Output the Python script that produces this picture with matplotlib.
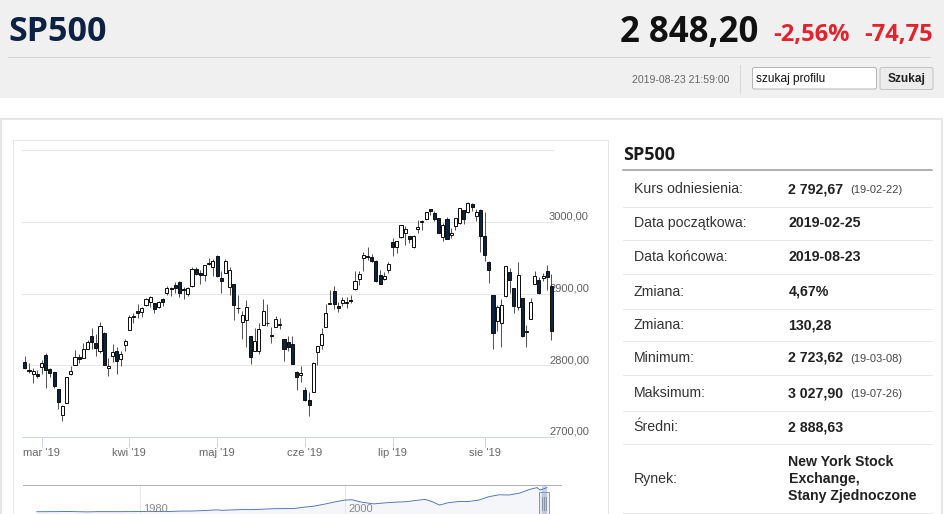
import matplotlib
matplotlib.use('Agg')
import matplotlib.pyplot as plt
import numpy as np
from matplotlib.patches import Rectangle, FancyBboxPatch
from matplotlib.transforms import blended_transform_factory

# --- data -------------------------------------------------------------------
# daily OHLC, 2019-02-25 .. 2019-08-23 (one entry per trading day)
opens = [2804.4, 2792.4, 2787.5, 2788.1, 2798.2, 2814.4, 2794.4, 2790.3, 2766.5, 2730.8,
         2747.6, 2787.3, 2799.8, 2811.0, 2810.8, 2822.6, 2840.8, 2831.3, 2819.7, 2844.5,
         2796.0, 2812.7, 2819.7, 2809.4, 2828.3, 2848.6, 2868.2, 2876.1, 2874.0, 2884.2,
         2888.5, 2886.6, 2881.4, 2891.9, 2900.9, 2908.3, 2912.3, 2916.0, 2904.8, 2898.8,
         2910.0, 2934.0, 2929.0, 2925.8, 2940.6, 2937.1, 2952.3, 2922.2, 2929.2, 2908.9,
         2913.0, 2879.6, 2859.8, 2863.1, 2840.2, 2820.1, 2820.4, 2855.8, 2858.6, 2841.9,
         2854.0, 2856.1, 2836.7, 2832.4, 2830.0, 2790.3, 2786.9, 2766.2, 2751.5, 2762.6,
         2818.1, 2828.5, 2852.9, 2885.8, 2903.3, 2882.7, 2886.2, 2886.8, 2889.8, 2906.7,
         2920.6, 2949.6, 2952.7, 2951.4, 2945.8, 2926.1, 2919.7, 2932.9, 2971.4, 2964.7,
         2978.1, 2984.3, 2979.8, 2965.5, 2989.3, 2999.6, 3003.4, 3017.8, 3012.1, 3005.1,
         2978.9, 3004.3, 2981.9, 2994.7, 2998.8, 3016.3, 3013.3, 3024.5, 3007.7, 3016.2,
         2980.3, 2943.9, 2898.1, 2861.2, 2858.7, 2896.2, 2930.5, 2907.1, 2880.7, 2894.2,
         2846.2, 2864.7, 2913.5, 2919.0, 2922.0, 2930.9, 2911.1]
highs = [2813.5, 2803.1, 2795.8, 2793.7, 2808.0, 2816.9, 2796.4, 2790.3, 2767.3, 2744.1,
         2784.0, 2798.3, 2821.2, 2815.0, 2830.7, 2835.4, 2852.4, 2843.5, 2860.3, 2846.2,
         2809.8, 2829.9, 2825.6, 2819.7, 2836.0, 2869.4, 2872.9, 2885.3, 2881.3, 2893.2,
         2896.0, 2886.9, 2889.7, 2893.4, 2910.5, 2909.6, 2916.1, 2918.0, 2908.4, 2909.5,
         2936.3, 2936.8, 2933.1, 2939.9, 2949.5, 2948.2, 2954.1, 2931.7, 2947.9, 2937.3,
         2913.0, 2898.0, 2876.0, 2891.3, 2840.2, 2852.5, 2858.7, 2892.2, 2885.5, 2853.9,
         2868.9, 2865.5, 2836.7, 2841.4, 2840.5, 2792.0, 2799.0, 2769.0, 2763.1, 2804.5,
         2827.3, 2852.1, 2885.0, 2904.8, 2910.6, 2888.6, 2895.2, 2894.5, 2897.3, 2930.8,
         2931.7, 2958.1, 2964.2, 2954.9, 2946.5, 2932.6, 2929.3, 2944.0, 2977.9, 2973.2,
         2995.8, 2994.0, 2980.8, 2981.9, 3003.0, 3002.3, 3013.9, 3017.8, 3015.0, 3005.3,
         2998.3, 3006.0, 2990.7, 3005.9, 3019.6, 3016.3, 3028.0, 3025.6, 3017.2, 3017.4,
         3013.6, 2945.5, 2898.1, 2884.4, 2892.2, 2938.7, 2935.8, 2907.6, 2943.3, 2894.2,
         2856.7, 2893.6, 2931.0, 2923.6, 2928.7, 2939.1, 2927.0]
lows = [2795.0, 2789.5, 2775.1, 2782.5, 2787.4, 2767.7, 2783.0, 2768.7, 2739.1, 2722.3,
        2747.6, 2786.7, 2799.8, 2803.5, 2810.8, 2822.0, 2823.3, 2812.4, 2817.4, 2800.5,
        2785.0, 2804.0, 2787.7, 2798.8, 2819.2, 2848.6, 2858.8, 2865.2, 2867.1, 2883.0,
        2880.8, 2873.3, 2879.1, 2882.0, 2898.4, 2896.5, 2900.7, 2895.5, 2891.9, 2896.4,
        2908.5, 2926.1, 2912.8, 2917.6, 2939.4, 2924.1, 2923.4, 2900.5, 2929.2, 2898.2,
        2862.6, 2873.3, 2836.4, 2825.4, 2801.4, 2820.1, 2815.1, 2855.8, 2854.2, 2831.3,
        2854.0, 2851.1, 2805.5, 2820.2, 2801.6, 2766.1, 2776.7, 2750.5, 2728.8, 2762.6,
        2800.9, 2822.5, 2852.9, 2885.5, 2878.5, 2874.7, 2882.0, 2879.6, 2887.3, 2905.4,
        2911.4, 2931.5, 2946.9, 2944.1, 2916.0, 2913.0, 2918.6, 2929.1, 2952.2, 2955.9,
        2978.0, 2968.0, 2970.1, 2963.4, 2984.6, 2988.8, 3001.9, 3008.8, 3001.2, 2984.3,
        2973.1, 2975.9, 2976.7, 2988.6, 2996.8, 2997.2, 3012.6, 3014.3, 3000.9, 2958.1,
        2945.2, 2914.1, 2822.1, 2847.4, 2825.7, 2894.5, 2900.2, 2873.1, 2877.1, 2839.6,
        2825.5, 2864.7, 2913.5, 2899.6, 2917.9, 2904.5, 2835.0]
closes = [2796.1, 2793.9, 2792.4, 2784.5, 2803.7, 2792.8, 2789.7, 2771.5, 2748.9, 2743.1,
          2783.3, 2791.5, 2810.9, 2808.5, 2822.5, 2832.9, 2832.6, 2824.2, 2854.9, 2800.7,
          2798.4, 2818.5, 2805.4, 2815.4, 2834.4, 2867.2, 2867.2, 2873.4, 2879.4, 2892.7,
          2895.8, 2878.2, 2888.2, 2888.3, 2907.4, 2905.6, 2907.1, 2900.5, 2905.0, 2908.0,
          2933.7, 2927.3, 2926.2, 2939.9, 2943.0, 2945.8, 2923.7, 2917.5, 2945.6, 2932.5,
          2884.1, 2879.4, 2870.7, 2881.4, 2811.9, 2834.4, 2851.0, 2876.3, 2859.5, 2840.2,
          2864.4, 2856.3, 2822.2, 2826.1, 2802.4, 2783.0, 2788.9, 2752.1, 2744.5, 2803.3,
          2826.2, 2843.5, 2873.3, 2886.7, 2885.7, 2879.8, 2891.6, 2887.0, 2889.7, 2917.8,
          2926.5, 2954.2, 2950.5, 2945.4, 2917.4, 2913.8, 2924.9, 2941.8, 2964.3, 2973.0,
          2995.8, 2990.4, 2976.0, 2979.6, 2993.1, 2999.9, 3013.8, 3014.3, 3004.0, 2984.4,
          2995.1, 2976.6, 2985.0, 3005.5, 3019.6, 3003.7, 3025.9, 3021.0, 3013.2, 2980.4,
          2953.6, 2932.1, 2844.7, 2881.8, 2884.0, 2938.1, 2918.7, 2882.7, 2926.3, 2840.6,
          2847.6, 2888.7, 2923.7, 2900.5, 2924.4, 2923.0, 2847.1]

month_ticks = [4, 25, 46, 67, 88, 110]
month_labels = ["mar '19", "kwi '19", "maj '19", "cze '19", "lip '19", "sie '19"]
y_ticks = [2700, 2800, 2900, 3000, 3100]
y_labels = ['2700,00', '2800,00', '2900,00', '3000,00', '']

# navigator: long history of the index
nav_years = [1970, 1972, 1973, 1974.9, 1976, 1978, 1980, 1981, 1982.6, 1984, 1985, 1986,
             1987.6, 1988, 1990, 1991, 1993, 1995, 1996, 1997, 1998, 1999, 2000, 2000.7,
             2001.5, 2002.8, 2004, 2005, 2006, 2007, 2007.8, 2008.5, 2009.2, 2010, 2011,
             2012, 2013, 2014, 2015, 2016, 2017, 2018, 2018.7, 2019, 2019.65]
nav_values = [90, 102, 118, 70, 100, 95, 110, 130, 110, 165, 170, 210, 310, 255, 340, 330,
              440, 460, 620, 740, 970, 1230, 1450, 1480, 1230, 1000, 1130, 1210, 1260, 1420,
              1520, 1260, 860, 1130, 1270, 1280, 1440, 1840, 2060, 2040, 2260, 2700, 2900,
              2600, 2900]

tbl_labels = ['Kurs odniesienia:', 'Data początkowa:', 'Data końcowa:', 'Zmiana:', 'Zmiana:',
              'Minimum:', 'Maksimum:', 'Średni:', 'Rynek:']
tbl_values = ['2 792,67', '2019-02-25', '2019-08-23', '4,67%', '130,28', '2 723,62',
              '3 027,90', '2 888,63', 'New York Stock\nExchange,\nStany Zjednoczone']
tbl_notes = ['(19-02-22)', '', '', '', '', '(19-03-08)', '(19-07-26)', '', '']

# --- figure -----------------------------------------------------------------
W, H = 945, 514
fig = plt.figure(figsize=(W / 100, H / 100), dpi=100)
PT = 0.72  # points per pixel
SANS = ['Liberation Sans', 'DejaVu Sans']
OPEN = ['Open Sans', 'DejaVu Sans']


def px_axes(x0, y0, x1, y1):
    return fig.add_axes([x0 / W, 1 - y1 / H, (x1 - x0) / W, (y1 - y0) / H])


page = px_axes(0, 0, W, H)
page.set_xlim(0, W)
page.set_ylim(H, 0)
page.axis('off')

# header band
page.add_patch(Rectangle((0, 0), W, 98, facecolor='#f0f0f0', edgecolor='none'))
page.plot([8, 930], [56.5, 56.5], color='#d4d4d4', lw=PT)
page.text(8, 41, 'SP500', family=OPEN, weight='bold', size=24.5, color='#0d2142')
page.text(620, 42, '2 848,20', family=OPEN, weight='bold', size=25, color='#111111')
page.text(773, 41.5, '-2,56%', family=OPEN, weight='bold', size=17, color='#e3222d')
page.text(864, 41.5, '-74,75', family=OPEN, weight='bold', size=17, color='#e3222d')
page.text(632, 83, '2019-08-23 21:59:00', family=SANS, size=7.6, color='#666666')
page.plot([740, 740], [65, 93], color='#d8d8d8', lw=PT)
page.add_patch(FancyBboxPatch((752.5, 67.5), 124, 21.5, boxstyle='round,pad=0,rounding_size=2',
                              facecolor='white', edgecolor='#b5b5b5', lw=PT))
page.text(756, 82, 'szukaj profilu', family=SANS, size=8.6, color='#111111')
page.add_patch(FancyBboxPatch((880, 67.5), 53, 22, boxstyle='round,pad=0,rounding_size=2',
                              facecolor='#ececec', edgecolor='#c4c4c4', lw=PT))
page.text(906.5, 82, 'Szukaj', family=SANS, weight='bold', size=8.6, color='#222222', ha='center')

# panel and chart container
page.add_patch(Rectangle((1, 119), 941, 420, facecolor='white', edgecolor='#e6e6e6', lw=2 * PT))
page.add_patch(Rectangle((13, 140), 595, 400, facecolor='white', edgecolor='#e6e6e6', lw=PT))

# info table
page.text(623, 160, 'SP500', family=OPEN, weight='bold', size=13, color='#1a1a1a')
page.plot([623, 932], [169.7, 169.7], color='#9a9a9a', lw=1.5 * PT)
for yl in [206.8, 240.4, 274.1, 308.5, 340.7, 375, 411, 444.3, 513.3]:
    page.plot([623, 932], [yl, yl], color='#e8e8e8', lw=PT)
row_y = [189, 223, 257, 291.5, 325, 358, 393, 427, 479]
for y, lab, val, note in zip(row_y, tbl_labels, tbl_values, tbl_notes):
    page.text(633.5, y, lab, family=SANS, size=10.2, color='#333333', va='center')
    page.text(788.5, y, val, family=SANS, size=10.2, weight='bold', color='#222222',
              va='center', linespacing=1.25)
    if note:
        page.text(850.5, y + 1, note, family=SANS, size=8, color='#444444', va='center')

# --- candlestick chart ------------------------------------------------------
ax = px_axes(22, 150, 554, 437)
ax.set_facecolor('none')
o = np.array(opens)
c = np.array(closes)
hi = np.array(highs)
lo = np.array(lows)
idx = np.arange(len(c))
up = c >= o
ax.vlines(idx, lo, hi, color='#2b2b2b', lw=0.8 * PT, zorder=3)
bottom = np.minimum(o, c)
height = np.maximum(np.abs(c - o), 0.9)
ax.bar(idx[up], height[up], bottom=bottom[up], width=0.74, color='white',
       edgecolor='#111111', lw=PT, zorder=4)
ax.bar(idx[~up], height[~up], bottom=bottom[~up], width=0.74, color='#0c2341',
       edgecolor='#111111', lw=PT, zorder=4)

ax.set_xlim(-0.67, 126.6)
ax.set_ylim(2700, 3100)
for s in ['top', 'left', 'right']:
    ax.spines[s].set_visible(False)
ax.spines['bottom'].set_color('#ccd6eb')
ax.spines['bottom'].set_linewidth(PT)
ax.set_axisbelow(True)
ax.yaxis.tick_right()
ax.set_yticks(y_ticks, y_labels)
ax.yaxis.grid(True, color='#e6e6e6', lw=PT)
ax.tick_params(axis='y', length=0, pad=-5 * PT, labelsize=8, labelcolor='#606060')
for t in ax.get_yticklabels():
    t.set_fontfamily(SANS)
    t.set_verticalalignment('bottom')
ax.set_xticks(month_ticks, month_labels)
ax.tick_params(axis='x', length=10 * PT, width=PT, color='#ccd6eb', pad=1,
               labelsize=8, labelcolor='#666666')
for t in ax.get_xticklabels():
    t.set_fontfamily(SANS)

# --- navigator --------------------------------------------------------------
nav = px_axes(23, 485, 561, 514)
nav.set_facecolor('none')
nav.set_xlim(1968.66, 2021.02)
nav.set_ylim(-175, 3201)
for s in ['bottom', 'left', 'right']:
    nav.spines[s].set_visible(False)
nav.spines['top'].set_color('#b3b3b3')
nav.spines['top'].set_linewidth(PT)
nav.set_xticks([1980, 2000])
nav.set_yticks([])
nav.tick_params(axis='x', length=0, labelbottom=False)
nav.xaxis.grid(True, color='#e6e6e6', lw=PT)
nav.fill_between(nav_years, nav_values, -175, color='#335cad', alpha=0.05, lw=0)
nav.plot(nav_years, nav_values, color='#4a6fb5', lw=0.9 * PT)
nav.axvspan(2019.14, 2019.65, color=(102 / 255, 133 / 255, 194 / 255, 0.3), lw=0)
tr = blended_transform_factory(nav.transData, nav.transAxes)
for yr in [1980, 2000]:
    nav.text(yr + 0.3, 0.17, str(yr), transform=tr, family=SANS, size=8,
             color='#888888', va='center')

# navigator handle
page.add_patch(Rectangle((539, 492), 10, 22, facecolor='#f2f2f2', edgecolor='#999999', lw=PT))
for hx in [542, 544, 546]:
    page.plot([hx, hx], [497, 510], color='#999999', lw=PT)

fig.savefig('out.png', dpi=100)
